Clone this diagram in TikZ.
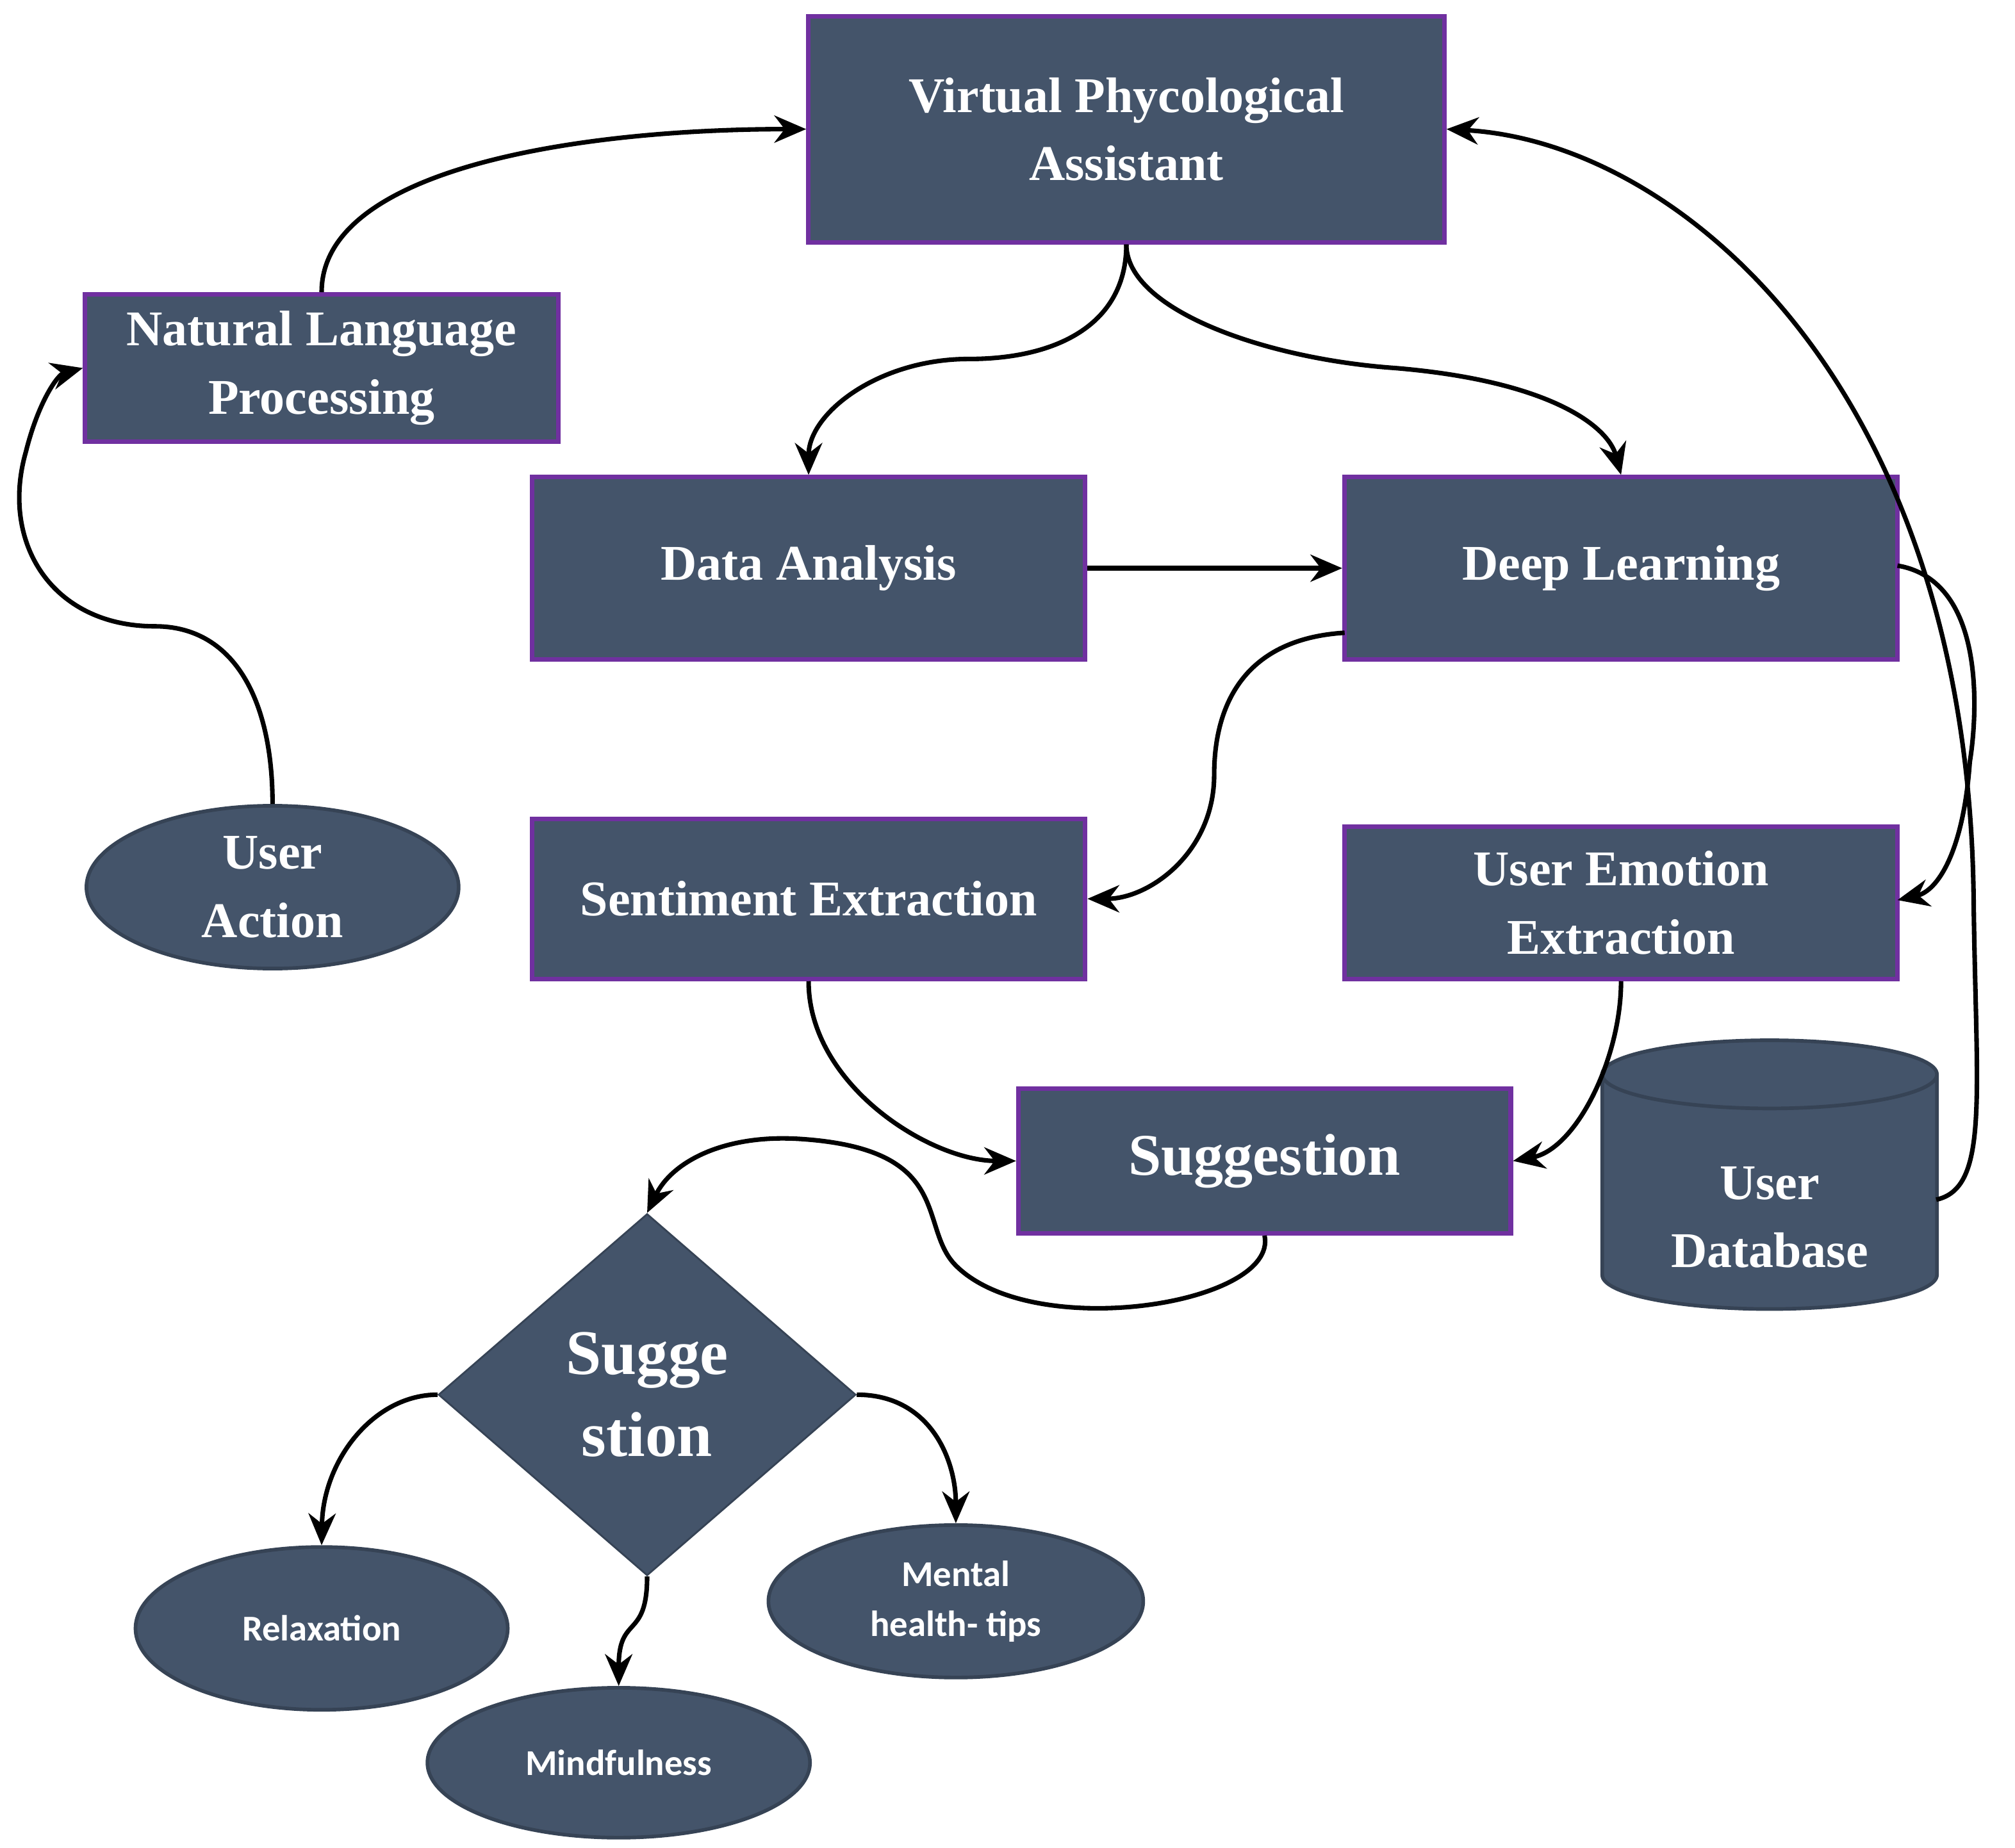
\documentclass[tikz,border=0pt]{standalone}
\usepackage{fontspec}
\setmainfont{Liberation Serif}
\newfontfamily\tipfont{Carlito}
\usetikzlibrary{shapes.geometric,arrows.meta}
\definecolor{boxfill}{HTML}{44546A}
\definecolor{boxline}{HTML}{7030A0}
\tikzset{
  blok/.style={draw=boxline,line width=1pt,fill=boxfill,text=white,align=center,
    font=\fontsize{11}{15}\selectfont\bfseries,inner sep=2pt},
  ovaal/.style={ellipse,draw=boxfill!80!black,line width=0.8pt,fill=boxfill,text=white,align=center,inner sep=0pt},
  pijl/.style={line width=1pt,-{Stealth[length=7pt,width=6pt]}}
}
\begin{document}
\begin{tikzpicture}[x=0.01cm,y=-0.01cm]
\useasboundingbox (0,0) rectangle (1560,1431);

% main blocks
\node[blok,minimum width=4.92cm,minimum height=1.75cm] (vpa) at (872,100) {Virtual Phycological\\Assistant};
\node[blok,minimum width=3.66cm,minimum height=1.14cm] (nlp) at (249,285) {Natural Language\\Processing};
\node[blok,minimum width=4.28cm,minimum height=1.41cm] (da) at (626,440) {Data Analysis};
\node[blok,minimum width=4.28cm,minimum height=1.41cm] (dl) at (1255,440) {Deep Learning};
\node[blok,minimum width=4.28cm,minimum height=1.24cm] (se) at (626,696) {Sentiment Extraction};
\node[blok,minimum width=4.28cm,minimum height=1.18cm] (uee) at (1255,699) {User Emotion\\Extraction};
\node[blok,minimum width=3.81cm,minimum height=1.12cm,font=\fontsize{13}{16}\selectfont\bfseries] (sug) at (979,899) {Suggestion};

% user side
\node[ovaal,minimum width=2.88cm,minimum height=1.26cm,font=\fontsize{11}{15}\selectfont\bfseries] (ua) at (211,687) {User\\Action};
\node[cylinder,shape border rotate=90,aspect=0.3,draw=boxfill!80!black,line width=0.8pt,fill=boxfill,text=white,align=center,
  minimum width=2.59cm,minimum height=2.08cm,font=\fontsize{11}{15}\selectfont\bfseries] (db) at (1370,929) {\\User\\Database};

% decision and tips
\node[diamond,draw=boxfill!80!black,fill=boxfill,text=white,align=center,aspect=1.15,
  minimum width=3.23cm,minimum height=2.8cm,inner sep=0pt,font=\fontsize{14}{18}\selectfont\bfseries] (dec) at (501,1080) {Sugge\\stion};
\node[ovaal,minimum width=2.88cm,minimum height=1.26cm,font=\tipfont\fontsize{8}{11}\selectfont\bfseries] (rel) at (249,1261) {Relaxation};
\node[ovaal,minimum width=2.96cm,minimum height=1.16cm,font=\tipfont\fontsize{8}{11}\selectfont\bfseries] (mind) at (479,1365) {Mindfulness};
\node[ovaal,minimum width=2.9cm,minimum height=1.18cm,font=\tipfont\fontsize{8}{11}\selectfont\bfseries] (ment) at (740,1240) {Mental\\health- tips};

% connectors
\draw[pijl] (nlp.north) .. controls (249,130) and (450,100) .. (vpa.west);
\draw[pijl] (ua.north) .. controls (211,540) and (180,485) .. (120,485)
  .. controls (40,485) and (0,420) .. (20,350) .. controls (30,310) and (45,290) .. (nlp.west);
\draw[pijl] (vpa.south) .. controls (872,250) and (820,278) .. (750,278)
  .. controls (680,278) and (626,320) .. (da.north);
\draw[pijl] (vpa.south) .. controls (872,240) and (980,278) .. (1080,285)
  .. controls (1200,295) and (1245,330) .. (dl.north);
\draw[pijl] (da.east) -- (dl.west);
\coordinate (dlw) at (1041,490);
\draw[pijl] (dlw) .. controls (960,495) and (940,550) .. (940,600)
  .. controls (940,660) and (890,696) .. (se.east);
\coordinate (dle) at (1469,438);
\coordinate (ueee) at (1469,697);
\draw[pijl] (dle) .. controls (1540,450) and (1530,560) .. (1525,590)
  .. controls (1520,660) and (1500,690) .. (ueee);
\draw[pijl] (se.south) .. controls (626,840) and (720,899) .. (sug.west);
\draw[pijl] (uee.south) .. controls (1255,820) and (1220,890) .. (sug.east);
\coordinate (dbe) at (1499,929);
\draw[pijl] (dbe) .. controls (1540,920) and (1530,850) .. (1528,700)
  .. controls (1525,300) and (1300,110) .. (vpa.east);
\draw[pijl] (sug.south) .. controls (990,1010) and (800,1040) .. (740,980)
  .. controls (710,950) and (740,890) .. (620,882)
  .. controls (560,878) and (520,900) .. (dec.north);
\draw[pijl] (dec.west) .. controls (290,1080) and (250,1130) .. (rel.north);
\draw[pijl] (dec.south) .. controls (501,1270) and (479,1250) .. (mind.north);
\draw[pijl] (dec.east) .. controls (720,1080) and (740,1130) .. (ment.north);
\end{tikzpicture}
\end{document}
